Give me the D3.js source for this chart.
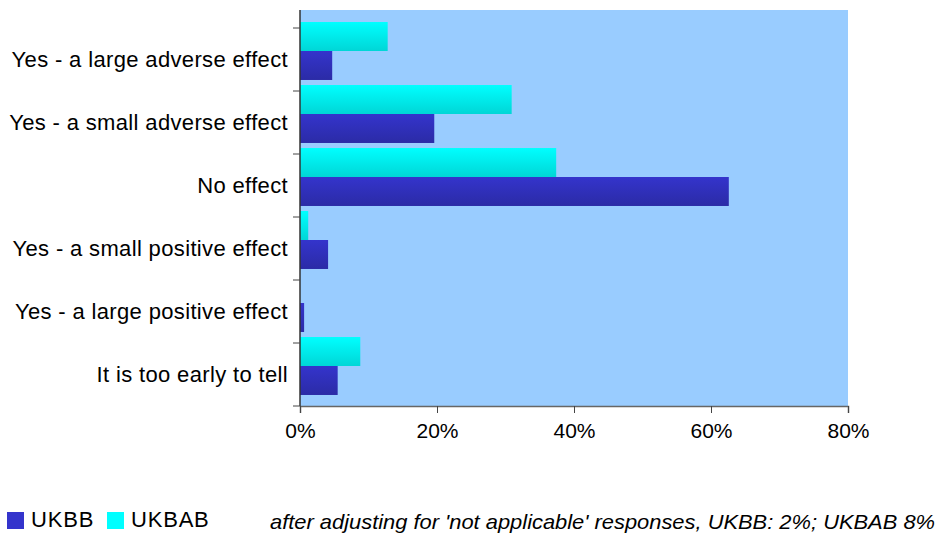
<!DOCTYPE html>
<html>
<head>
<meta charset="utf-8">
<script src="https://cdn.jsdelivr.net/npm/d3@7"></script>
<style>
  body { margin: 0; background: #fff; }
  svg { display: block; font-family: Arial, "Liberation Sans", sans-serif; }
</style>
</head>
<body>
<div id="chart"></div>
<script>
// Data
const categories = [
  'Yes - a large adverse effect',
  'Yes - a small adverse effect',
  'No effect',
  'Yes - a small positive effect',
  'Yes - a large positive effect',
  'It is too early to tell'
];
const seriesNames = ['UKBAB', 'UKBB'];
const ukbbValues = [4.7, 19.6, 62.6, 4.1, 0.6, 5.5];
const ukbabValues = [12.8, 30.9, 37.4, 1.2, 0, 8.8];
const xTicks = [0, 20, 40, 60, 80];
const legendItems = ['UKBB', 'UKBAB'];
const footnote = "after adjusting for 'not applicable' responses, UKBB: 2%; UKBAB 8%";

// Layout
const W = 943, H = 538;
const PLOT = { LEFT: 300, RIGHT: 848, TOP: 10, BOTTOM: 406 };
const colors = {
  UKBB: ['#3434cc', '#2b2ba6'],
  UKBAB: ['#00ffff', '#00d6d6']
};

const svg = d3.select('#chart').append('svg')
  .attr('width', W)
  .attr('height', H);

const defs = svg.append('defs');
Object.entries(colors).forEach(([name, [top, bottom]]) => {
  const g = defs.append('linearGradient')
    .attr('id', 'grad-' + name)
    .attr('x1', 0).attr('y1', 0).attr('x2', 0).attr('y2', 1);
  g.append('stop').attr('offset', '0%').attr('stop-color', top);
  g.append('stop').attr('offset', '100%').attr('stop-color', bottom);
});

// Scales
const x = d3.scaleLinear().domain([0, 80]).range([PLOT.LEFT, PLOT.RIGHT]);

// category slots (labels + tick marks)
const yCat = d3.scaleBand().domain(categories).range([28, PLOT.BOTTOM]);
// bar groups sit slightly above the label slots
const yBar = d3.scaleBand().domain(categories).range([19.5, 397.5])
  .paddingInner(0.08).paddingOuter(0.04);
const ySub = d3.scaleBand().domain(seriesNames).range([0, yBar.bandwidth()]);

// Plot background
svg.append('rect')
  .attr('x', PLOT.LEFT)
  .attr('y', PLOT.TOP)
  .attr('width', PLOT.RIGHT - PLOT.LEFT)
  .attr('height', PLOT.BOTTOM - PLOT.TOP)
  .attr('fill', '#99ccff');

// Bars
const rows = categories.map((c, i) => ({ cat: c, UKBB: ukbbValues[i], UKBAB: ukbabValues[i] }));
const groups = svg.selectAll('.grp')
  .data(rows)
  .enter().append('g')
  .attr('transform', d => `translate(0,${yBar(d.cat)})`);

groups.selectAll('rect')
  .data(d => seriesNames.map(s => ({ s, v: d[s] })))
  .enter().append('rect')
  .attr('x', x(0))
  .attr('y', d => ySub(d.s))
  .attr('width', d => x(d.v) - x(0))
  .attr('height', ySub.bandwidth())
  .attr('fill', d => `url(#grad-${d.s})`);

// X axis
const xAxis = svg.append('g')
  .attr('transform', `translate(0,${PLOT.BOTTOM})`)
  .call(d3.axisBottom(x).tickValues(xTicks).tickSize(7).tickPadding(10).tickFormat(d => d + '%'));
xAxis.select('.domain').attr('stroke', '#666').attr('stroke-width', 1.5);
xAxis.selectAll('.tick line').attr('stroke', '#444');
xAxis.selectAll('.tick text')
  .attr('fill', '#000')
  .style('font-size', '21px');

// Y axis line
svg.append('line')
  .attr('x1', PLOT.LEFT).attr('x2', PLOT.LEFT)
  .attr('y1', PLOT.TOP).attr('y2', PLOT.BOTTOM)
  .attr('stroke', '#333')
  .attr('stroke-width', 1.5);

// Y ticks at category boundaries
const boundaries = [yCat.range()[0]].concat(categories.map(c => yCat(c) + yCat.step()));
svg.selectAll('.ytick')
  .data(boundaries)
  .enter().append('line')
  .attr('x1', PLOT.LEFT - 7).attr('x2', PLOT.LEFT)
  .attr('y1', d => d).attr('y2', d => d)
  .attr('stroke', '#444');

// Category labels
svg.selectAll('.ylabel')
  .data(categories)
  .enter().append('text')
  .attr('x', PLOT.LEFT - 12)
  .attr('y', d => yCat(d) + yCat.bandwidth() / 2)
  .attr('dy', '0.33em')
  .attr('text-anchor', 'end')
  .style('font-size', '22px')
  .style('letter-spacing', '0.35px')
  .text(d => d);

// Legend
const legend = svg.append('g').attr('transform', 'translate(7,512)');
const legendX = [0, 100];
legendItems.forEach((name, i) => {
  legend.append('rect')
    .attr('x', legendX[i]).attr('y', 0)
    .attr('width', 17).attr('height', 17)
    .attr('fill', colors[name][0]);
  legend.append('text')
    .attr('x', legendX[i] + 24)
    .attr('y', 15)
    .style('font-size', '22px')
    .style('letter-spacing', '0.8px')
    .text(name);
});

// Footnote
svg.append('text')
  .attr('x', 270)
  .attr('y', 529)
  .attr('textLength', 665)
  .attr('lengthAdjust', 'spacingAndGlyphs')
  .style('font-size', '21px')
  .style('font-style', 'italic')
  .text(footnote);
</script>
</body>
</html>
